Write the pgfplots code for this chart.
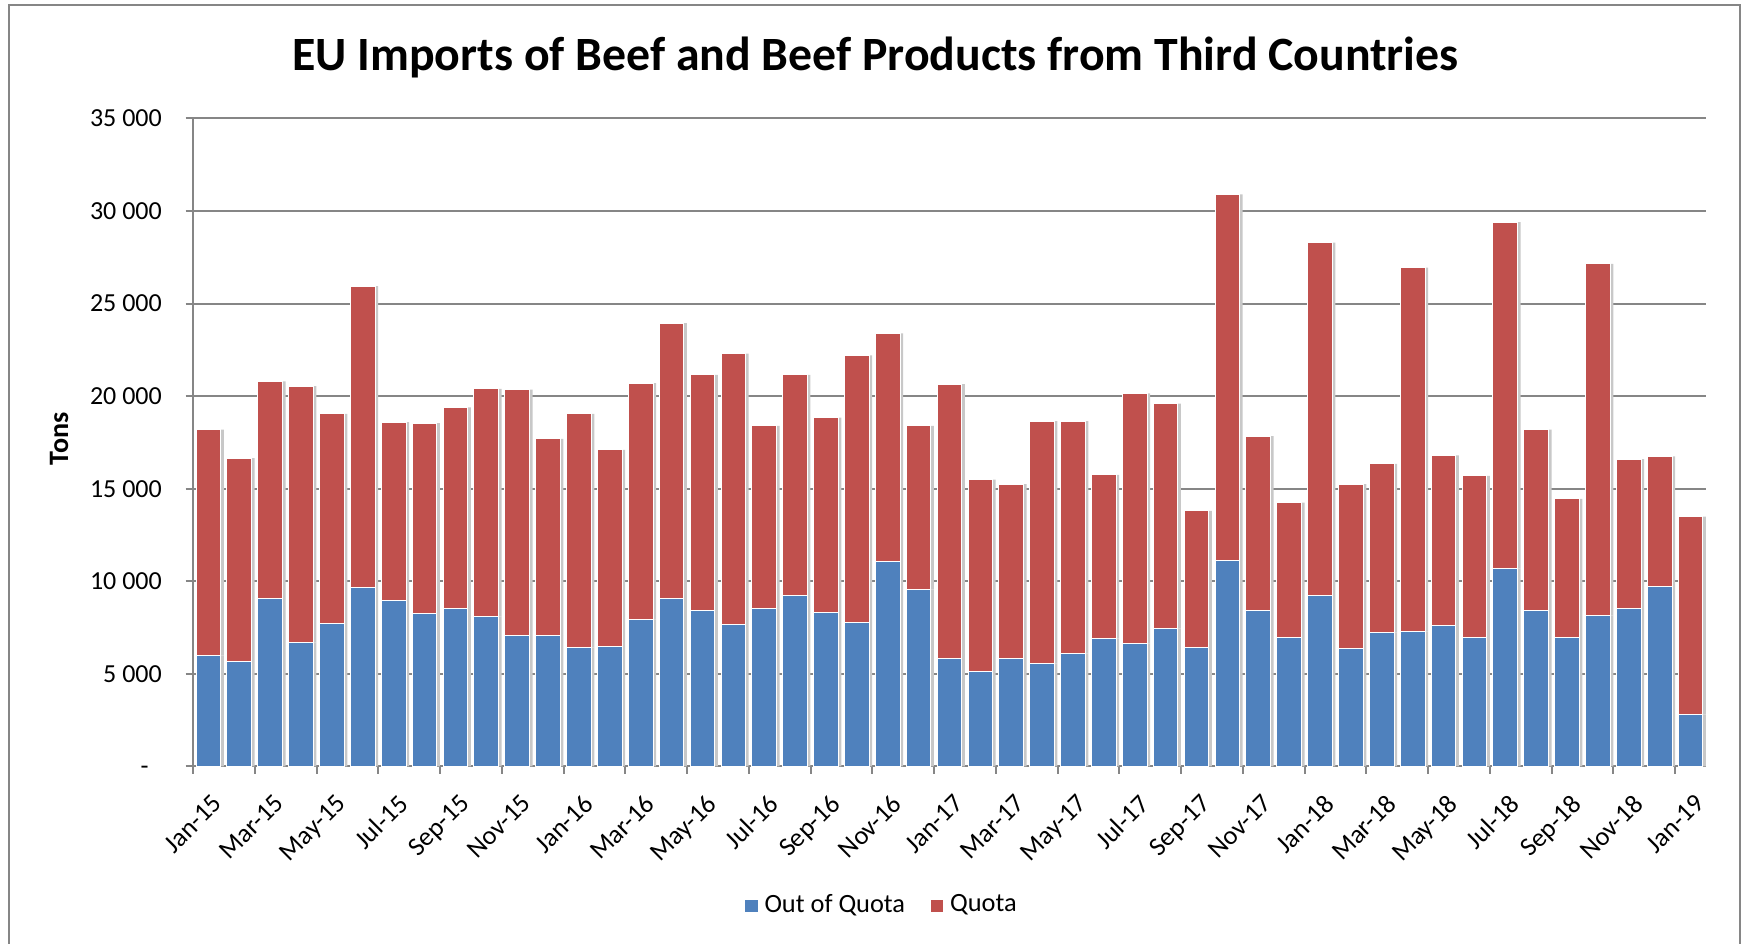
\documentclass[border=0pt]{standalone}
\usepackage{fontspec}
\setmainfont{Carlito}
\usepackage{pgfplots}
\usepackage{pgfplotstable}
\pgfplotsset{compat=1.18}
\definecolor{qblue}{RGB}{79,129,189}
\definecolor{qred}{RGB}{192,80,77}
\definecolor{ggray}{RGB}{134,134,134}
\definecolor{shadowgray}{RGB}{200,200,200}

\pgfplotstableread{
x blue quota
0 6000 12200
1 5650 11000
2 9100 11700
3 6700 13850
4 7700 11350
5 9650 16300
6 8950 9650
7 8250 10300
8 8550 10850
9 8100 12300
10 7050 13300
11 7100 10600
12 6420 12630
13 6500 10600
14 7950 12750
15 9100 14850
16 8400 12750
17 7650 14650
18 8550 9850
19 9250 11900
20 8300 10550
21 7800 14400
22 11050 12350
23 9550 8850
24 5850 14800
25 5150 10350
26 5850 9400
27 5550 13100
28 6100 12550
29 6900 8850
30 6650 13500
31 7450 12150
32 6450 7350
33 11150 19750
34 8400 9450
35 6950 7300
36 9250 19050
37 6350 8900
38 7250 9100
39 7300 19650
40 7600 9200
41 6950 8750
42 10700 18700
43 8400 9800
44 6950 7500
45 8150 19000
46 8550 8050
47 9700 7050
48 2800 10700
}\datatable

\begin{document}
\begin{tikzpicture}
\useasboundingbox (0mm,0mm) rectangle (174.3mm,94.4mm);
\draw[ggray, line width=0.2mm] (0.9mm,-2mm) -- (0.9mm,93.9mm) -- (174.0mm,93.9mm) -- (174.0mm,-2mm);
\node[font=\bfseries\fontsize{13.6}{15}\selectfont] at (87.55mm,88.6mm) {EU Imports of Beef and Beef Products from Third Countries};
\node[rotate=90, font=\bfseries\fontsize{8}{9}\selectfont] at (5.9mm,50.5mm) {Tons};
\begin{axis}[
  at={(19.3mm,17.75mm)}, anchor=south west, scale only axis,
  width=151.3mm, height=64.8mm,
  ybar stacked, bar width=0.8,
  xmin=-0.5, xmax=48.5, ymin=0, ymax=35000,
  scaled y ticks=false,
  xtick={-0.5,1.5,...,47.5}, xticklabels={},
  extra x ticks={0,2,...,48},
  extra x tick labels={Jan-15,Mar-15,May-15,Jul-15,Sep-15,Nov-15,Jan-16,Mar-16,May-16,Jul-16,Sep-16,Nov-16,Jan-17,Mar-17,May-17,Jul-17,Sep-17,Nov-17,Jan-18,Mar-18,May-18,Jul-18,Sep-18,Nov-18,Jan-19},
  extra x tick style={major tick length=0pt, xticklabel style={anchor=north east, inner sep=0pt, xshift=0.3mm, yshift=-2.55mm, rotate=45, font=\fontsize{7.5}{8}\selectfont}},
  ytick={0,5000,...,35000},
  yticklabels={-\phantom{0},5 000,10 000,15 000,20 000,25 000,30 000,35 000},
  yticklabel style={inner sep=0pt, xshift=-2.3mm},
  ymajorgrids, grid style={ggray, line width=0.2mm},
  axis x line*=bottom, axis y line*=left,
  axis line style={ggray, line width=0.2mm, -},
  tick style={ggray, line width=0.2mm},
  tick align=outside, major tick length=0.75mm,
  tick label style={font=\fontsize{7.4}{8}\selectfont},
  legend style={at={(0.457,-0.215)}, anchor=center, draw=none, legend columns=2,
    font=\fontsize{7.5}{9}\selectfont, /tikz/every even column/.append style={column sep=1.85mm}},
  legend image code/.code={\fill[#1] (0,-0.62mm) rectangle (1.24mm,0.62mm);},
]
\addplot[forget plot, fill=qblue, draw=white, line width=0.1mm,
  preaction={fill=shadowgray, draw=none, transform canvas={xshift=0.3mm}}] table[x=x,y=blue]{\datatable};
\addplot[forget plot, fill=qred, draw=white, line width=0.1mm,
  preaction={fill=shadowgray, draw=none, transform canvas={xshift=0.3mm}}] table[x=x,y=quota]{\datatable};
\addlegendimage{fill=qblue, draw=none}
\addlegendimage{fill=qred, draw=none}
\legend{Out of Quota, Quota}
\end{axis}
\end{tikzpicture}
\end{document}
